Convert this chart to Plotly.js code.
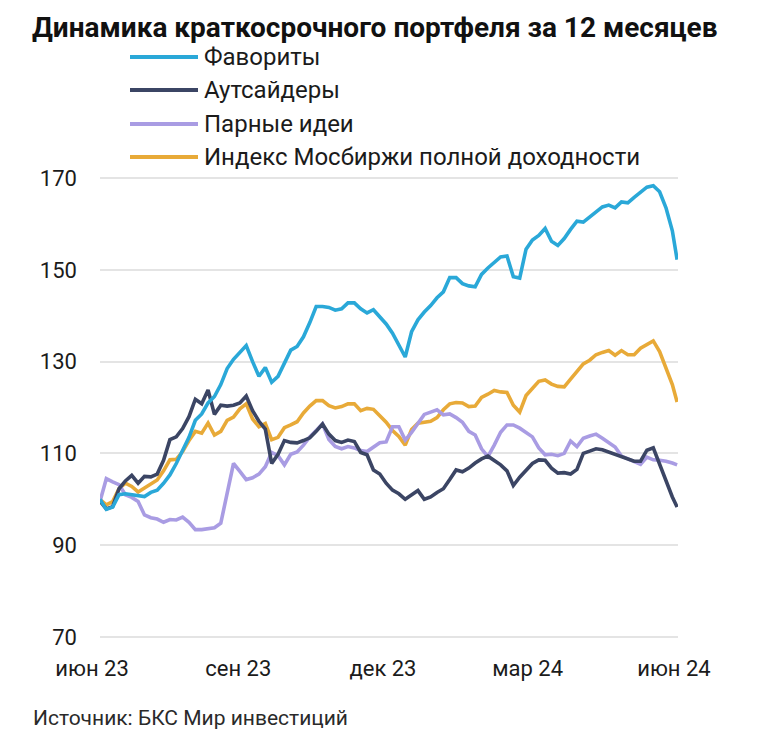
<!DOCTYPE html>
<html>
<head>
<meta charset="utf-8">
<script src="https://cdn.plot.ly/plotly-3.0.1.min.js"></script>
<style>html,body{margin:0;padding:0;background:#fff;}#chart{width:758px;height:732px;}</style>
</head>
<body>
<div id="chart"></div>
<script>
// ---- data ----
const dates = [
"2023-06-06","2023-06-10","2023-06-14","2023-06-18","2023-06-22","2023-06-26","2023-06-30",
"2023-07-04","2023-07-08","2023-07-12","2023-07-16","2023-07-20","2023-07-24","2023-07-28",
"2023-08-01","2023-08-05","2023-08-09","2023-08-13","2023-08-17","2023-08-21","2023-08-25","2023-08-29",
"2023-09-02","2023-09-06","2023-09-10","2023-09-14","2023-09-18","2023-09-22","2023-09-26","2023-09-30",
"2023-10-04","2023-10-08","2023-10-12","2023-10-16","2023-10-20","2023-10-24","2023-10-28",
"2023-11-01","2023-11-05","2023-11-09","2023-11-13","2023-11-17","2023-11-21","2023-11-25","2023-11-29",
"2023-12-03","2023-12-07","2023-12-11","2023-12-15","2023-12-19","2023-12-23","2023-12-27","2023-12-31",
"2024-01-04","2024-01-08","2024-01-12","2024-01-16","2024-01-20","2024-01-24","2024-01-28",
"2024-02-01","2024-02-05","2024-02-09","2024-02-13","2024-02-17","2024-02-21","2024-02-25","2024-02-29",
"2024-03-04","2024-03-08","2024-03-12","2024-03-16","2024-03-20","2024-03-24","2024-03-28",
"2024-04-01","2024-04-05","2024-04-09","2024-04-13","2024-04-17","2024-04-21","2024-04-25","2024-04-29",
"2024-05-03","2024-05-07","2024-05-11","2024-05-15","2024-05-19","2024-05-23","2024-05-27","2024-05-31",
"2024-06-03"];

const favorites = [
100,97.8,98.3,101,101.2,101,100.8,100.6,101.5,102,103.5,105.3,107.8,110.5,113.5,117.2,118.6,121,122.4,125,
128.5,130.5,132,133.5,130,126.8,128.7,125.5,126.8,129.5,132.5,133.3,135.4,138.5,142,142,141.8,141.2,141.5,142.8,
142.8,141.5,140.6,141.3,139.8,138.2,136.2,133.5,131,136.5,139.1,140.8,142.2,143.9,145.2,148.3,148.3,147,146.5,146.3,
149,150.4,151.5,152.8,153,148.5,148.2,154.5,156.5,157.5,159,156.2,155.3,156.8,158.8,160.6,160.4,161.5,162.5,163.7,
164.1,163.5,164.8,164.6,165.8,166.8,168,168.3,167,163.5,158.5,152.2];

const outsiders = [
99.6,97.9,98.4,102.3,104,105.2,103.5,105,104.9,105.5,108.5,113,113.6,115.4,118,121.8,120.8,123.8,118.5,120.5,
120.3,120.5,121,122.5,119.3,117,115.3,107.8,109.8,112.8,112.4,112.3,112.8,113.4,114.8,116.4,114.2,112.8,112.4,112.9,
112.6,110.2,109.7,106.4,105.5,103.5,102,101.2,100,101,101.9,100,100.5,101.5,102.3,104.3,106.4,106,106.8,107.9,
108.8,109.4,108.5,107.5,106.2,103,104.8,106.2,107.8,108.6,108.5,106.8,105.7,105.8,105.5,106.5,110,110.5,111,110.8,
110.3,109.8,109.1,108.7,108.3,108.3,110.7,111.2,107.5,104,100.5,98.3];

const pairIdeas = [
99.5,104.5,103.8,103.2,101,100.4,99.5,96.6,96,95.7,95,95.6,95.5,96.1,95,93.4,93.4,93.7,93.8,94.8,
101.4,107.8,106.1,104.3,104.7,105.5,107.1,110.2,109.5,107.5,109.8,110.3,111.8,113.6,115,116.4,113,111.5,111,111.5,
111.2,110.6,110.4,111.4,112.3,112.5,115.8,115.8,112.9,114.6,116.4,118.5,119,119.5,118.4,118.6,117.8,116.8,114.8,114,
111,109.3,111.8,114.6,116.2,116.2,115.5,114.5,113.6,111.2,109.7,109.8,109.5,110,112.7,111.5,113.3,113.8,114.2,113.3,
112.4,111.4,109.4,108.8,108.1,107.6,109.2,108.6,108.5,108.3,107.9,107.5];

const moexTR = [
100,98.8,99.5,102.3,103.5,102.8,101.6,102.5,103.2,104.2,106.2,108.6,108.7,110.4,112.8,114.8,114.4,116.6,114,114.8,
117.2,117.9,119.7,120.8,117.5,115.8,116.5,113,113.5,115.6,116.2,116.9,118.8,120.3,121.5,121.5,120.4,119.9,120.2,120.8,
120.8,119.3,119.8,119.6,118.2,116.8,115,113.7,111.8,115.2,116.6,116.8,117,117.8,119.5,120.8,121.1,121,120.2,120.3,
122.2,122.9,123.7,123.4,123.3,120.5,119,122.6,124.3,125.7,126,125.1,124.6,124.5,126.2,127.9,129.5,130.3,131.5,132,
132.4,131.4,132.4,131.5,131.5,132.9,133.6,134.5,132.2,128.6,125,121.2];

const seriesNames = ["Фавориты","Аутсайдеры","Парные идеи","Индекс Мосбиржи полной доходности"];
const seriesColors = ["#2aa8d8","#3b4564","#a99ce3","#e8aa38"];
const seriesValues = [favorites, outsiders, pairIdeas, moexTR];

const tickVals = ["2023-06-01","2023-09-01","2023-12-01","2024-03-01","2024-06-01"];
const tickText = ["июн 23","сен 23","дек 23","мар 24","июн 24"];
const yTicks = [70,90,110,130,150,170];

// ---- layout geometry ----
const W = 758, H = 732;
const mL = 92, mR = 78, mT = 176, mB = 93;
const pw = W - mL - mR, ph = H - mT - mB;
const px = v => (v - mL) / pw;
const py = v => (H - mB - v) / ph;

const FONT = "Roboto, 'Noto Sans', Arial, sans-serif";
const TXT = "#1b1b1b";

const traces = seriesValues.map((vals, i) => ({
  type: "scatter", mode: "lines", x: dates, y: vals, name: seriesNames[i],
  xaxis: "x", yaxis: "y",
  line: {color: seriesColors[i], width: 3.6}, hoverinfo: "skip"
}));
// draw order: index, pair, outsiders, favorites on top
const ordered = [traces[3], traces[2], traces[1], traces[0]];

const legendY = [57, 90, 124, 157];
const shapes = [];
const annotations = [];
seriesNames.forEach((n, i) => {
  shapes.push({type: "line", xref: "paper", yref: "paper",
    x0: px(130), x1: px(198), y0: py(legendY[i]), y1: py(legendY[i]),
    line: {color: seriesColors[i], width: 4}});
  annotations.push({xref: "paper", yref: "paper", x: px(202), y: py(legendY[i]),
    xanchor: "left", yanchor: "middle", text: n, showarrow: false,
    font: {family: FONT, size: 24, color: TXT}});
});
annotations.push({xref: "paper", yref: "paper", x: px(31), y: py(718),
  xanchor: "left", yanchor: "middle", text: "Источник: БКС Мир инвестиций", showarrow: false,
  font: {family: FONT, size: 21, color: "#2a2a2a"}});

const layout = {
  width: W, height: H,
  margin: {l: mL, r: mR, t: mT, b: mB, pad: 0},
  paper_bgcolor: "#fff", plot_bgcolor: "rgba(0,0,0,0)",
  showlegend: false,
  title: {text: "<b>Динамика краткосрочного портфеля за 12 месяцев</b>",
    x: 32 / W, xref: "container", xanchor: "left",
    y: 1 - 27 / H, yref: "container", yanchor: "middle",
    font: {family: FONT, size: 28, color: "#111"}},
  xaxis: {type: "date", domain: [(99.95 - mL) / pw, (677.9 - mL) / pw], anchor: "y",
    range: ["2023-06-06", "2024-06-03 12:00"],
    showticklabels: false, ticks: "", showgrid: false, zeroline: false, showline: false, fixedrange: true},
  xaxis2: {type: "date", anchor: "y2", domain: [0, 1],
    range: ["2023-06-01", "2024-06-04 19:12"],
    tickmode: "array", tickvals: tickVals, ticktext: tickText,
    ticks: "", ticklabelstandoff: 14, showgrid: false, zeroline: false, showline: false,
    tickfont: {family: FONT, size: 22, color: TXT}, fixedrange: true},
  yaxis: {range: [70 - 2 / 4.59, 170 + 2 / 4.59], anchor: "x", tickmode: "array", tickvals: yTicks,
    ticks: "", ticklabelstandoff: 22, showgrid: true, gridcolor: "#e4e4e4", gridwidth: 2,
    zeroline: false, showline: false,
    tickfont: {family: FONT, size: 22, color: TXT}, fixedrange: true},
  yaxis2: {domain: [0, 1], anchor: "x2", range: [0, 1], visible: false, showgrid: false,
    zeroline: false, fixedrange: true},
  shapes: shapes,
  annotations: annotations
};

// invisible carrier trace so that the label axis (xaxis2) gets drawn
const axisCarrier = {type: "scatter", mode: "lines", x: [tickVals[0], tickVals[4]], y: [null, null],
  xaxis: "x2", yaxis: "y2", hoverinfo: "skip", showlegend: false, line: {width: 0}};

Plotly.newPlot("chart", ordered.concat([axisCarrier]), layout, {staticPlot: true, displayModeBar: false});
</script>
</body>
</html>
